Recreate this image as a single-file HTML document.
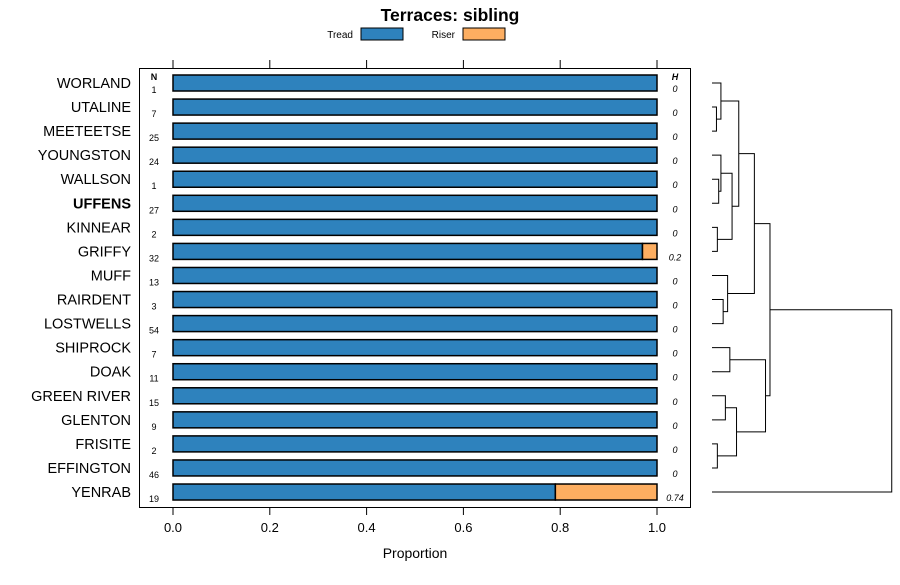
<!DOCTYPE html>
<html><head><meta charset="utf-8"><style>
body{margin:0;background:#fff;font-family:"Liberation Sans",sans-serif}
svg text{font-family:"Liberation Sans",sans-serif}
</style></head><body>
<svg id="c" width="900" height="580" xmlns="http://www.w3.org/2000/svg"></svg>
<script>
const categories=["WORLAND","UTALINE","MEETEETSE","YOUNGSTON","WALLSON","UFFENS","KINNEAR","GRIFFY","MUFF","RAIRDENT","LOSTWELLS","SHIPROCK","DOAK","GREEN RIVER","GLENTON","FRISITE","EFFINGTON","YENRAB"];
const treadValues=[1,1,1,1,1,1,1,0.97,1,1,1,1,1,1,1,1,1,0.79];
const riserValues=[0,0,0,0,0,0,0,0.03,0,0,0,0,0,0,0,0,0,0.21];
const nValues=[1,7,25,24,1,27,2,32,13,3,54,7,11,15,9,2,46,19];
const hLabels=["0","0","0","0","0","0","0","0.2","0","0","0","0","0","0","0","0","0","0.74"];
const xTicks=[0,0.2,0.4,0.6,0.8,1];
const tickLabels=["0.0","0.2","0.4","0.6","0.8","1.0"];
// dendrogram merges: [left, right, height]; negatives = leaf indices (-(i+1)), positives = merge index+1
const merges=[[-2,-3,1],[-1,1,2],[-5,-6,1.5],[-4,3,2],[-7,-8,1.2],[4,5,4.5],[2,6,6],[-10,-11,2.5],[-9,8,3.5],[7,9,9.5],[-12,-13,4],[-14,-15,3],[-16,-17,1.2],[12,13,5.5],[11,14,12],[10,15,13],[-18,16,40.3]];
const svg=document.getElementById('c');const NS="http://www.w3.org/2000/svg";
function mk(t,a,p){const e=document.createElementNS(NS,t);for(const k in a)e.setAttribute(k,a[k]);(p||svg).appendChild(e);return e;}
const X=v=>173+v*484;
const Y=i=>83+i*24.06;
const DH=h=>712+h*4.46;
let t=mk('text',{x:450,y:21,'text-anchor':'middle','font-size':17.5,'font-weight':'bold'});t.textContent="Terraces: sibling";


t=mk('text',{x:353,y:38,'text-anchor':'end','font-size':10});t.textContent="Tread";


t=mk('rect',{x:361,y:28,width:42,height:12,fill:'#2e82bd',stroke:'#000'});


t=mk('text',{x:455,y:38,'text-anchor':'end','font-size':10});t.textContent="Riser";


t=mk('rect',{x:463,y:28,width:42,height:12,fill:'#fdae61',stroke:'#000'});


t=mk('rect',{x:139.5,y:68.5,width:551,height:439,fill:'none',stroke:'#000'});


xTicks.forEach((v,i)=>{
 let l=mk('line',{x1:X(v),x2:X(v),y1:60,y2:68,stroke:'#000'});
 
 
 l=mk('line',{x1:X(v),x2:X(v),y1:507,y2:515,stroke:'#000'});
 
 
 const tt=mk('text',{x:X(v),y:532,'text-anchor':'middle','font-size':13});tt.textContent=tickLabels[i];
 
 
});
t=mk('text',{x:415,y:558,'text-anchor':'middle','font-size':14});t.textContent="Proportion";


t=mk('text',{x:154,y:80,'text-anchor':'middle','font-size':9,'font-weight':'bold'});t.textContent="N";


t=mk('text',{x:675,y:80,'text-anchor':'middle','font-size':9,'font-weight':'bold','font-style':'italic'});t.textContent="H";


categories.forEach((c,i)=>{
 const y=Y(i);
 let e=mk('text',{x:131,y:y+5,'text-anchor':'end','font-size':14.5,'font-weight':c==="UFFENS"?'bold':'normal'});e.textContent=c;
 
 
 e=mk('rect',{x:X(0),y:y-8,width:X(treadValues[i])-X(0),height:16,fill:'#2e82bd',stroke:'#000','stroke-width':1.5});
 
 
 if(riserValues[i]>0){
  e=mk('rect',{x:X(treadValues[i]),y:y-8,width:X(treadValues[i]+riserValues[i])-X(treadValues[i]),height:16,fill:'#fdae61',stroke:'#000','stroke-width':1.5});
  
  
 }
 e=mk('text',{x:154,y:y+10,'text-anchor':'middle','font-size':9});e.textContent=nValues[i];
 
 
 e=mk('text',{x:675,y:y+9,'text-anchor':'middle','font-size':9,'font-style':'italic'});e.textContent=hLabels[i];
 
 
});
// dendrogram
const nodes=[];
function pos(k){return k<0?{x:DH(0),y:Y(-k-1)}:nodes[k-1];}
merges.forEach(m=>{
 const a=pos(m[0]),b=pos(m[1]),hx=DH(m[2]);
 const p=mk('path',{d:`M${a.x} ${a.y}H${hx}V${b.y}H${b.x}`,fill:'none',stroke:'#000'});
 
 
 nodes.push({x:hx,y:(a.y+b.y)/2});
});
</script>
</body></html>
